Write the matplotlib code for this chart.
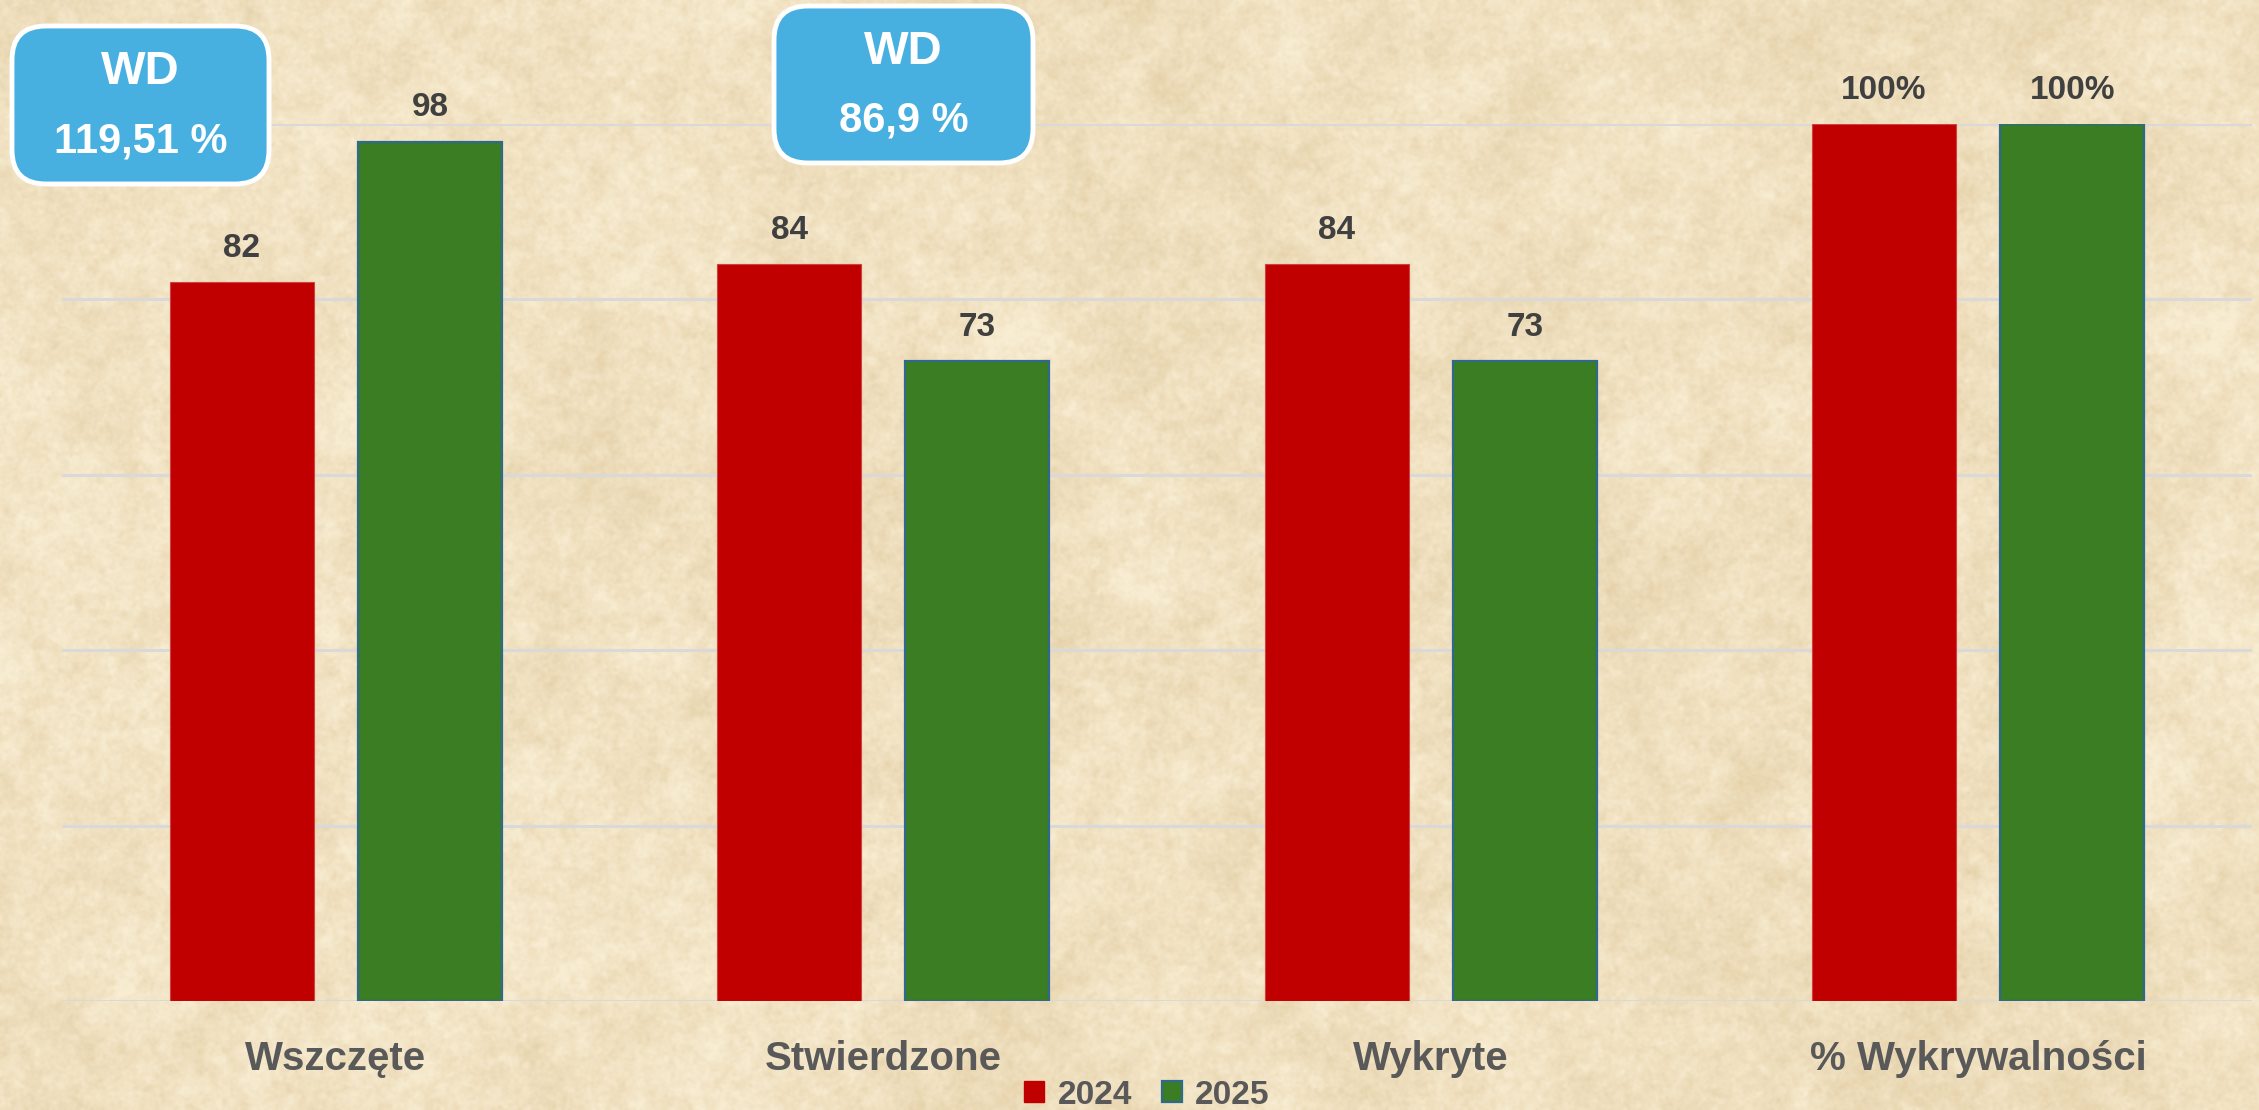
import numpy as np
import matplotlib.pyplot as plt
from matplotlib.patches import FancyBboxPatch, Patch

plt.rcParams['font.family'] = ['Liberation Sans', 'DejaVu Sans']

# ---- data ------------------------------------------------------------
categories = ['Wszczęte', 'Stwierdzone', 'Wykryte', '% Wykrywalności']
years = ['2024', '2025']
values_2024 = [82, 84, 84, 100]
values_2025 = [98, 73, 73, 100]
labels_2024 = ['82', '84', '84', '100%']
labels_2025 = ['98', '73', '73', '100%']
wd_titles = ['WD', 'WD']
wd_values = ['119,51 %', '86,9 %']

RED = '#C00000'
GREEN = '#3A7D22'
GREEN_EDGE = '#2F6A8E'
W, H = 2259, 1110

fig = plt.figure(figsize=(W / 100, H / 100), dpi=100)

# ---- parchment background -------------------------------------------
rng = np.random.default_rng(7)
ny, nx = H // 2, W // 2
noise = rng.standard_normal((ny, nx))
fy = np.fft.fftfreq(ny)[:, None]
fx = np.fft.fftfreq(nx)[None, :]
f = np.sqrt(fx ** 2 + fy ** 2)
f[0, 0] = 1.0
field = np.real(np.fft.ifft2(np.fft.fft2(noise) / f ** 0.9))
field = (field - field.mean()) / field.std()
grain = rng.standard_normal((ny, nx))
t = np.clip(0.62 + 0.14 * field + 0.05 * grain, 0, 1)[..., None]
light = np.array([249, 238, 212]) / 255
dark = np.array([226, 204, 162]) / 255
bg = light * t + dark * (1 - t)

ax_bg = fig.add_axes([0, 0, 1, 1], zorder=0)
ax_bg.imshow(bg, aspect='auto', interpolation='bicubic', extent=[0, W, H, 0])
ax_bg.axis('off')

# ---- bars -------------------------------------------------------------
y0, y100 = 1001, 124
ax = fig.add_axes([62 / W, (H - y0) / H, 2190 / W, (y0 - y100) / H], zorder=1)
ax.patch.set_alpha(0)

x = np.arange(len(categories))
bw = 0.263
off = 0.172
b1 = ax.bar(x - off, values_2024, bw, color=RED, edgecolor='#D04040',
            linewidth=0.8, zorder=3)
b2 = ax.bar(x + off, values_2025, bw, color=GREEN, edgecolor=GREEN_EDGE,
            linewidth=1.6, zorder=3)

for bars, labs in ((b1, labels_2024), (b2, labels_2025)):
  for rect, lab in zip(bars, labs):
    ax.annotate(lab, (rect.get_x() + rect.get_width() / 2, rect.get_height()),
                xytext=(0, 13), textcoords='offset points', ha='center',
                va='bottom', fontsize=24, fontweight='bold', color='#404040',
                annotation_clip=False)
  #end
#end

ax.set_xlim(-0.5, len(categories) - 0.5)
ax.set_ylim(0, 100)
ax.set_yticks(np.arange(0, 101, 20))
ax.yaxis.grid(True, color='#D9D9D9', linewidth=2.2, zorder=0)
ax.set_axisbelow(True)
ax.tick_params(left=False, bottom=False, labelleft=False, labelbottom=False)
for s in ax.spines.values():
  s.set_visible(False)

for xi, cat in zip(x, categories):
  ax.text(xi, -58 / (y0 - y100) * 100, cat, ha='center', va='center',
          fontsize=29, fontweight='bold', color='#595959', clip_on=False)

handles = [Patch(facecolor=RED, edgecolor=RED),
           Patch(facecolor=GREEN, edgecolor=GREEN_EDGE, linewidth=1.6)]
leg = fig.legend(handles, years, loc='center', ncol=2, frameon=False,
                 bbox_to_anchor=(1147 / W, 1 - 1095 / H),
                 handlelength=0.6, handleheight=0.6, handletextpad=0.4,
                 columnspacing=0.9, prop={'size': 24, 'weight': 'bold'})
for txt in leg.get_texts():
  txt.set_color('#595959')

# ---- WD boxes ---------------------------------------------------------
ax_ov = fig.add_axes([0, 0, 1, 1], zorder=2)
ax_ov.set_xlim(0, W)
ax_ov.set_ylim(H, 0)
ax_ov.axis('off')

boxes = [(12, 26, 257, 158), (774, 6, 259, 157)]
for (bx, by, bwid, bht), title, val in zip(boxes, wd_titles, wd_values):
  ax_ov.add_patch(FancyBboxPatch((bx, by), bwid, bht,
                                 boxstyle='round,pad=0,rounding_size=34',
                                 facecolor='#48B0E0', edgecolor='white',
                                 linewidth=3.5, mutation_aspect=1))
  ax_ov.text(bx + bwid / 2, by + bht * 0.29, title, ha='center', va='center',
             fontsize=34, fontweight='bold', color='white')
  ax_ov.text(bx + bwid / 2, by + bht * 0.73, val, ha='center', va='center',
             fontsize=30, fontweight='bold', color='white')

fig.savefig('out.png', dpi=100)
